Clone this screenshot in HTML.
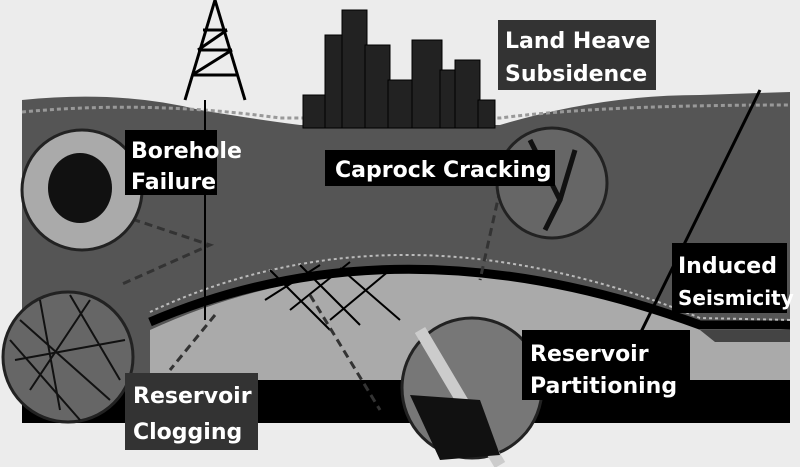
<!DOCTYPE html><html><head><style>body{margin:0;background:#ececec}svg{display:block}text{font-family:"DejaVu Sans","Liberation Sans",sans-serif;fill:#fff;font-size:22px;font-weight:bold}</style></head><body>
<svg width="800" height="467" viewBox="0 0 800 467">
<rect width="800" height="467" fill="#ececec"/>
<path d="M22,100 Q120,90 200,110 Q260,120 300,125 L500,125 Q600,95 700,95 L790,92 L790,423 L22,423 Z" fill="#555"/>
<path d="M22,112 Q150,100 280,118 L500,118 Q600,105 790,105" stroke="#999" stroke-width="3" stroke-dasharray="4 3" fill="none"/>
<path d="M150,330 Q400,215 700,325 L790,330 L790,380 L150,380 Z" fill="#aaa"/>
<path d="M700,330 L790,330 L790,342 L715,342 Z" fill="#444"/>
<path d="M150,322 Q400,215 700,325 L790,325" stroke="#000" stroke-width="9" fill="none"/>
<path d="M150,312 Q400,195 700,318 L790,320" stroke="#bbb" stroke-width="2" stroke-dasharray="3 3" fill="none"/>
<rect x="22" y="380" width="768" height="43" fill="#000"/>
<g stroke="#000" stroke-width="2" fill="none"><path d="M265,300 L320,265 M290,310 L350,262 M330,320 L390,270 M270,270 L330,330 M300,265 L360,325 M340,268 L400,320"/></g>
<g stroke="#333" stroke-width="3" stroke-dasharray="8 5" fill="none"><path d="M120,215 L210,245 L120,285 M310,295 L380,410 M500,190 L480,280 M215,315 L170,370"/></g>
<line x1="205" y1="100" x2="205" y2="320" stroke="#000" stroke-width="2"/>
<line x1="760" y1="90" x2="610" y2="395" stroke="#000" stroke-width="3"/>
<g stroke="#000" stroke-width="3" fill="none"><path d="M185,100 L215,0 L245,100 M192,75 L238,75 M198,50 L232,50 M203,30 L227,30 M192,75 L232,50 M198,50 L227,30"/></g>
<g fill="#222" stroke="#000"><rect x="303" y="95" width="25" height="33"/><rect x="325" y="35" width="22" height="93"/><rect x="342" y="10" width="25" height="118"/><rect x="365" y="45" width="25" height="83"/><rect x="388" y="80" width="25" height="48"/><rect x="412" y="40" width="30" height="88"/><rect x="440" y="70" width="25" height="58"/><rect x="455" y="60" width="25" height="68"/><rect x="478" y="100" width="17" height="28"/></g>
<circle cx="82" cy="190" r="60" fill="#aaa" stroke="#222" stroke-width="3"/><ellipse cx="80" cy="188" rx="32" ry="35" fill="#111"/>
<circle cx="68" cy="357" r="65" fill="#666" stroke="#222" stroke-width="3"/>
<g stroke="#111" stroke-width="2" fill="none"><path d="M20,320 L110,400 M40,300 L60,410 M90,300 L30,390 M15,360 L125,340 M70,295 L120,380 M10,340 L80,420"/></g>
<circle cx="552" cy="183" r="55" fill="#666" stroke="#222" stroke-width="3"/><path d="M530,140 L560,200 L545,230 M575,150 L560,200" stroke="#111" stroke-width="5" fill="none"/>
<circle cx="472" cy="388" r="70" fill="#777" stroke="#222" stroke-width="3"/><path d="M420,330 L500,465" stroke="#ccc" stroke-width="12"/><path d="M410,395 L480,400 L500,455 L440,460 Z" fill="#111"/>
<rect x="125" y="130" width="92" height="65" fill="#000"/><text x="131" y="158">Borehole</text><text x="131" y="189">Failure</text>
<rect x="325" y="150" width="230" height="36" fill="#000"/><text x="335" y="177">Caprock Cracking</text>
<rect x="498" y="20" width="158" height="70" fill="#333"/><text x="505" y="48">Land Heave</text><text x="505" y="81">Subsidence</text>
<rect x="672" y="243" width="115" height="70" fill="#000"/><text x="678" y="273" font-size="21">Induced</text><text x="678" y="305" style="font-size:20px">Seismicity</text>
<rect x="522" y="330" width="168" height="70" fill="#000"/><text x="530" y="361">Reservoir</text><text x="530" y="393">Partitioning</text>
<rect x="125" y="373" width="133" height="77" fill="#333"/><text x="133" y="403">Reservoir</text><text x="133" y="439">Clogging</text>
</svg></body></html>
